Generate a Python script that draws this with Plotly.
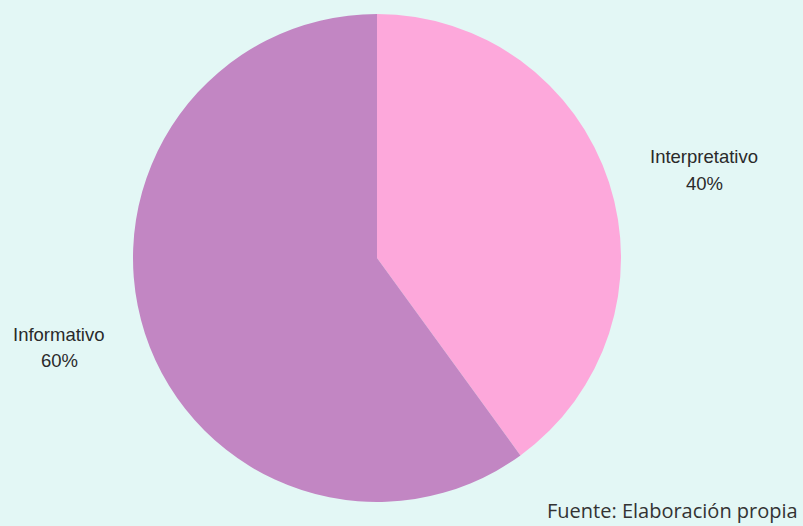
import plotly.graph_objects as go

labels = ["Interpretativo", "Informativo"]
values = [40, 60]
colors = ["#FDA8DB", "#C286C3"]
source_text = "Fuente: Elaboración propia"

W, H = 803, 526
cx, cy, r = 377, 258, 244

fig = go.Figure(go.Pie(
    labels=labels,
    values=values,
    sort=False,
    direction="clockwise",
    rotation=0,
    marker=dict(colors=colors, line=dict(width=0)),
    textinfo="none",
    hoverinfo="label+percent",
    showlegend=False,
    domain=dict(x=[(cx - r) / W, (cx + r) / W], y=[1 - (cy + r) / H, 1 - (cy - r) / H]),
))

total = sum(values)
label_pos = [(704, 157, 183), (59, 334, 360)]
lab_font = dict(family="Liberation Sans, Arial", size=18.5, color="#2a2a2a")
for lab, val, (px, py1, py2) in zip(labels, values, label_pos):
    fig.add_annotation(
        x=px / W, y=1 - py1 / H, xref="paper", yref="paper",
        text=lab, showarrow=False, xanchor="center", yanchor="middle",
        font=lab_font,
    )
    fig.add_annotation(
        x=px / W, y=1 - py2 / H, xref="paper", yref="paper",
        text=f"{round(100 * val / total)}%", showarrow=False,
        xanchor="center", yanchor="middle", font=lab_font,
    )

fig.add_annotation(
    x=800 / W, y=0, xref="paper", yref="paper",
    text=source_text, showarrow=False, xanchor="right", yanchor="bottom",
    font=dict(family="Open Sans", size=20, color="#333333"),
)

fig.update_layout(
    width=W, height=H,
    margin=dict(l=0, r=0, t=0, b=0),
    paper_bgcolor="#E3F7F5",
    plot_bgcolor="#E3F7F5",
)

fig.write_html(
    "out.html",
    config={"displayModeBar": False},
    post_script="document.body.style.margin='0';document.documentElement.style.overflow='hidden';",
)
